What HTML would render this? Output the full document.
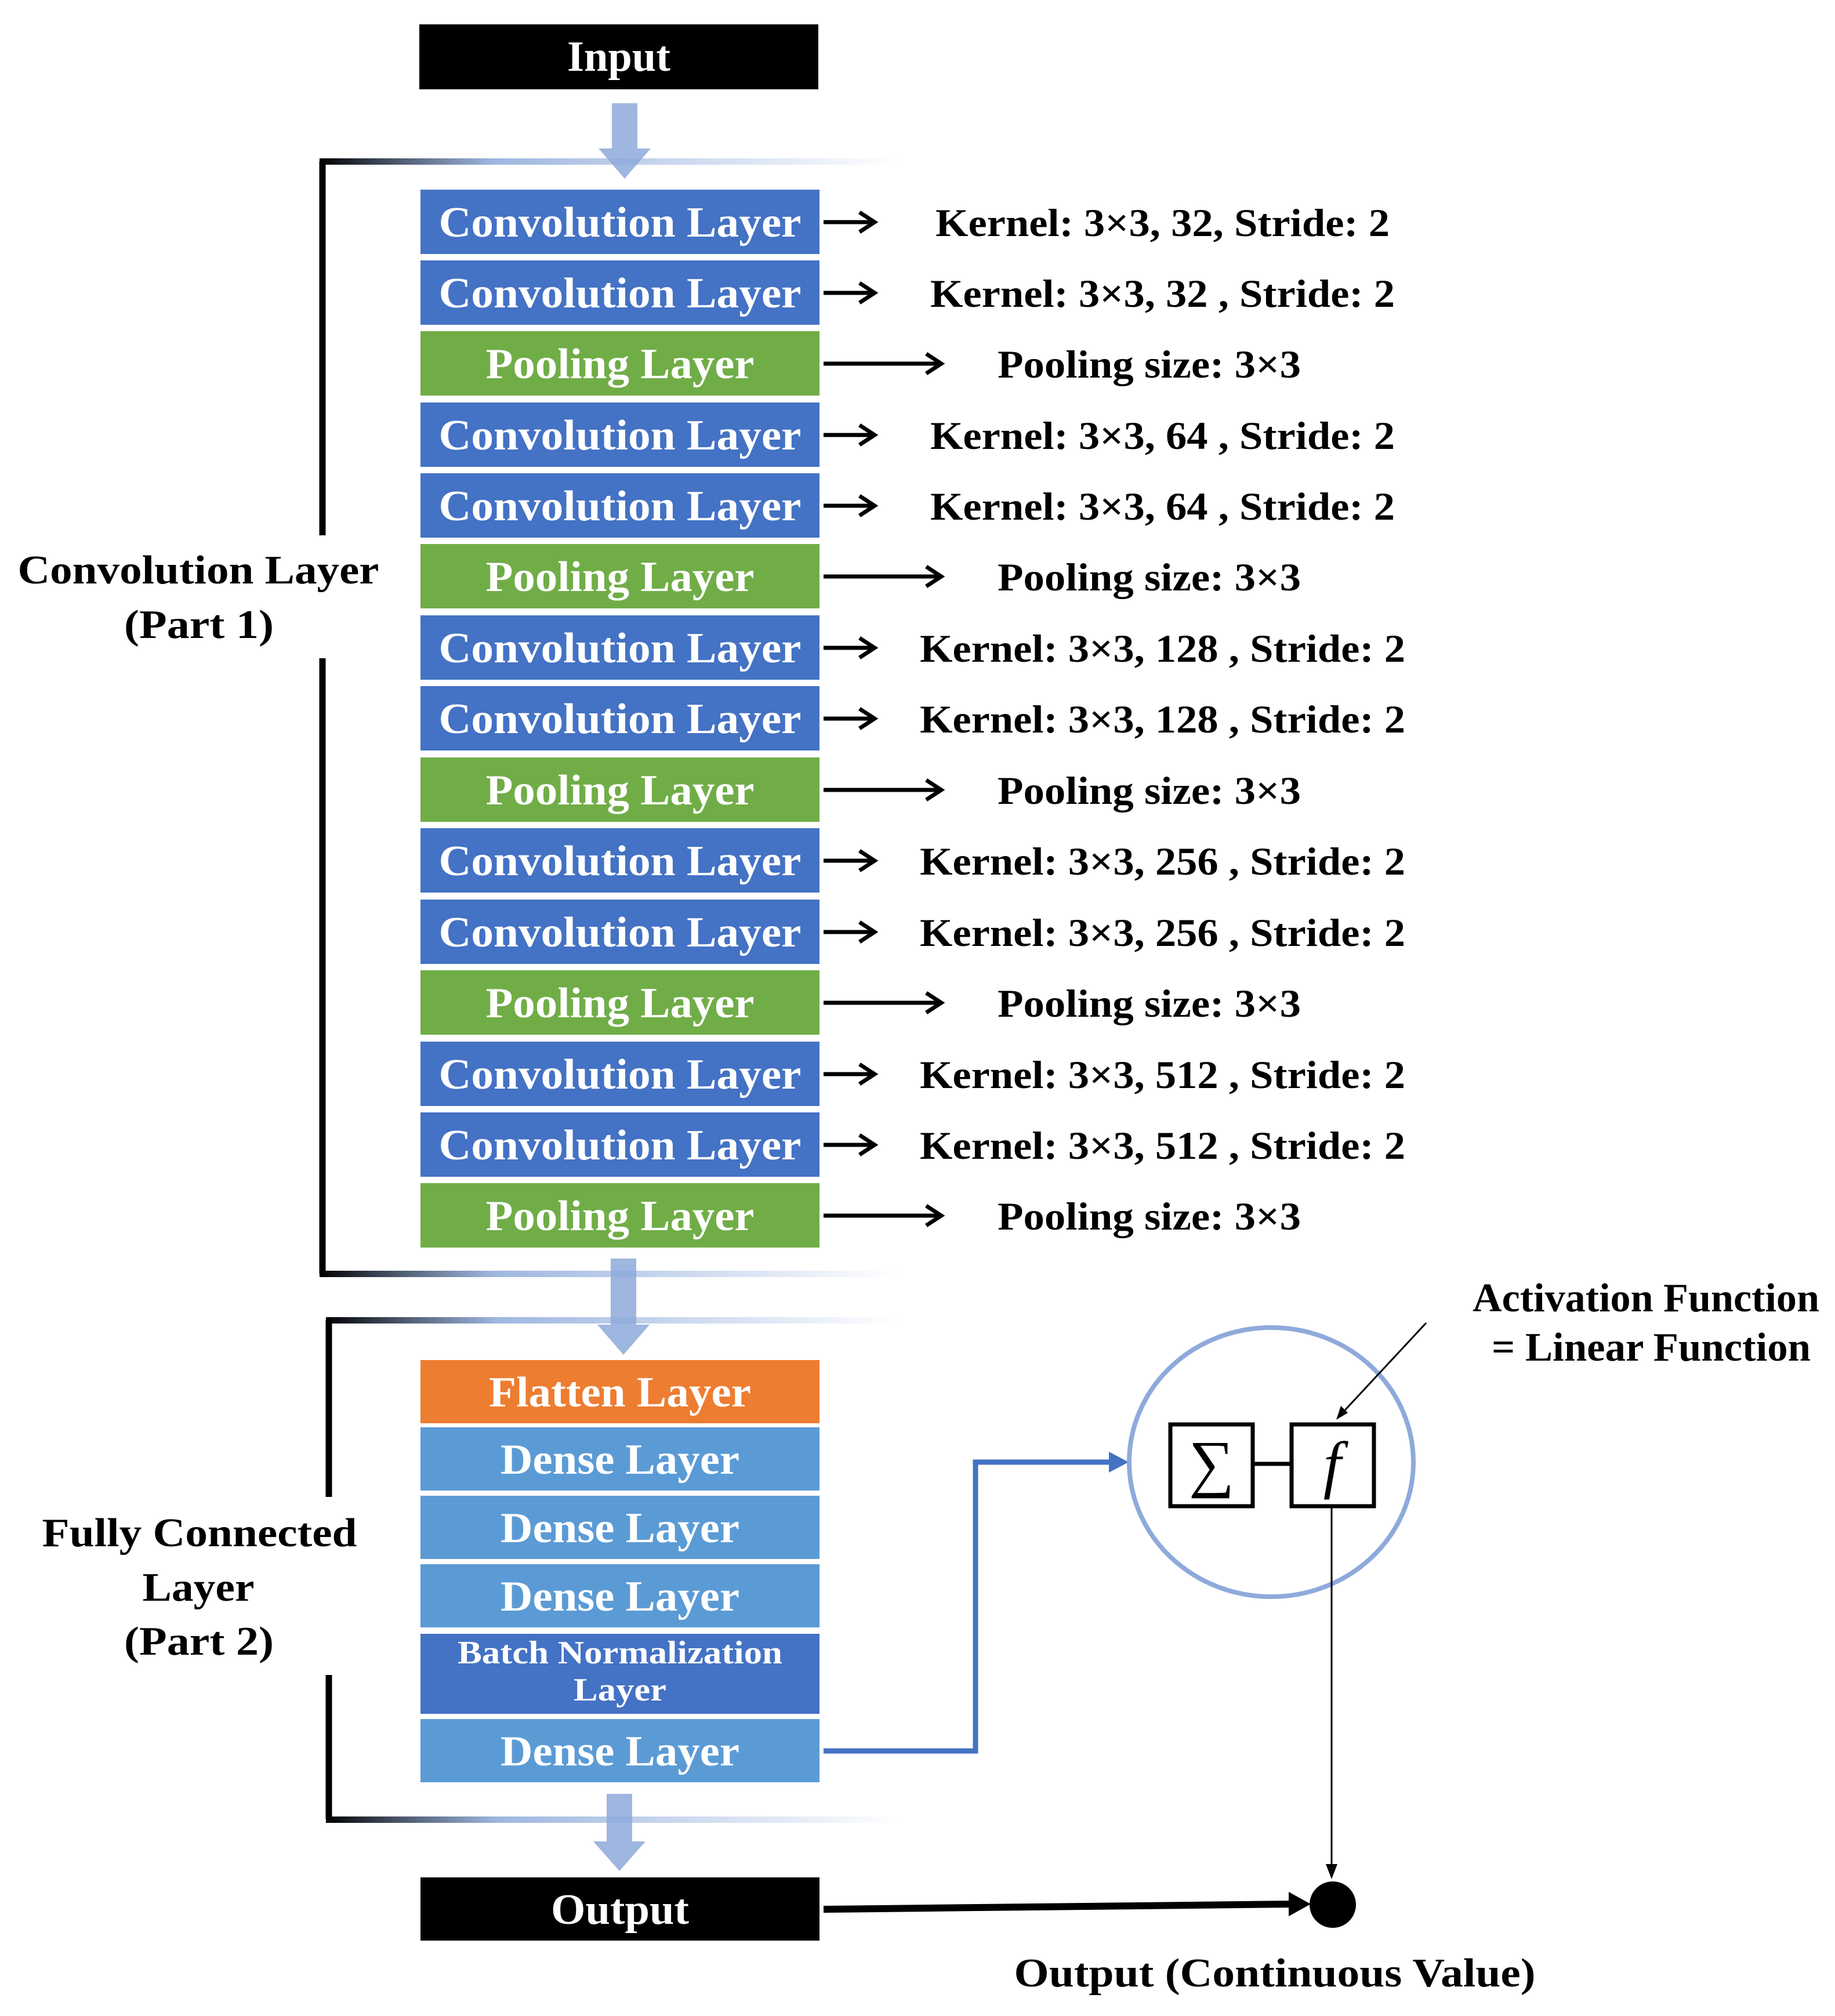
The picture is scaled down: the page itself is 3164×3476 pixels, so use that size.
<!DOCTYPE html>
<html><head><meta charset="utf-8"><style>html,body{margin:0;padding:0;background:#fff}svg{display:block}</style></head>
<body>
<svg xmlns="http://www.w3.org/2000/svg" width="3164" height="3476" viewBox="0 0 3164 3476" font-family="Liberation Serif, serif" font-weight="bold">
<defs>
<linearGradient id="br" x1="0" x2="1" y1="0" y2="0">
<stop offset="0" stop-color="#000"/><stop offset="0.3" stop-color="#8eaadb" stop-opacity="0.85"/><stop offset="1" stop-color="#8eaadb" stop-opacity="0"/>
</linearGradient>
</defs>
<rect width="3164" height="3476" fill="#fff"/>
<!-- input -->
<rect x="723" y="42" width="688" height="112" fill="#000"/>
<text x="1067" y="122" fill="#fff" font-size="74" text-anchor="middle" textLength="178" lengthAdjust="spacingAndGlyphs">Input</text>
<!-- bracket 1 -->
<path d="M556,923 V278" stroke="#000" stroke-width="11" fill="none"/>
<path d="M556,1135 V2196" stroke="#000" stroke-width="11" fill="none"/>
<rect x="551" y="273" width="1000" height="11" fill="url(#br)"/>
<rect x="551" y="2191" width="1000" height="11" fill="url(#br)"/>
<!-- bracket 2 -->
<path d="M567,2581 V2276" stroke="#000" stroke-width="11" fill="none"/>
<path d="M567,2888 V3137" stroke="#000" stroke-width="11" fill="none"/>
<rect x="562" y="2271" width="990" height="11" fill="url(#br)"/>
<rect x="562" y="3132" width="990" height="11" fill="url(#br)"/>
<!-- down arrows -->
<g fill="#8eaadb" opacity="0.85">
<rect x="1055" y="178" width="44" height="80"/><path d="M1032,256 H1122 L1077,308 Z"/>
<rect x="1053" y="2170" width="44" height="116"/><path d="M1030,2284 H1120 L1075,2336 Z"/>
<rect x="1046" y="3093" width="44" height="84"/><path d="M1023,3175 H1113 L1068,3226 Z"/>
</g>
<!-- layers -->
<g font-size="74" fill="#fff" text-anchor="middle">
<rect x="725" y="327" width="688" height="111" fill="#4472c4"/><text x="1069" y="408" textLength="625" lengthAdjust="spacingAndGlyphs">Convolution Layer</text>
<rect x="725" y="449" width="688" height="111" fill="#4472c4"/><text x="1069" y="530" textLength="625" lengthAdjust="spacingAndGlyphs">Convolution Layer</text>
<rect x="725" y="571" width="688" height="111" fill="#70ad47"/><text x="1069" y="652" textLength="463" lengthAdjust="spacingAndGlyphs">Pooling Layer</text>
<rect x="725" y="694" width="688" height="111" fill="#4472c4"/><text x="1069" y="775" textLength="625" lengthAdjust="spacingAndGlyphs">Convolution Layer</text>
<rect x="725" y="816" width="688" height="111" fill="#4472c4"/><text x="1069" y="897" textLength="625" lengthAdjust="spacingAndGlyphs">Convolution Layer</text>
<rect x="725" y="938" width="688" height="111" fill="#70ad47"/><text x="1069" y="1019" textLength="463" lengthAdjust="spacingAndGlyphs">Pooling Layer</text>
<rect x="725" y="1061" width="688" height="111" fill="#4472c4"/><text x="1069" y="1142" textLength="625" lengthAdjust="spacingAndGlyphs">Convolution Layer</text>
<rect x="725" y="1183" width="688" height="111" fill="#4472c4"/><text x="1069" y="1264" textLength="625" lengthAdjust="spacingAndGlyphs">Convolution Layer</text>
<rect x="725" y="1306" width="688" height="111" fill="#70ad47"/><text x="1069" y="1387" textLength="463" lengthAdjust="spacingAndGlyphs">Pooling Layer</text>
<rect x="725" y="1428" width="688" height="111" fill="#4472c4"/><text x="1069" y="1509" textLength="625" lengthAdjust="spacingAndGlyphs">Convolution Layer</text>
<rect x="725" y="1551" width="688" height="111" fill="#4472c4"/><text x="1069" y="1632" textLength="625" lengthAdjust="spacingAndGlyphs">Convolution Layer</text>
<rect x="725" y="1673" width="688" height="111" fill="#70ad47"/><text x="1069" y="1754" textLength="463" lengthAdjust="spacingAndGlyphs">Pooling Layer</text>
<rect x="725" y="1796" width="688" height="111" fill="#4472c4"/><text x="1069" y="1877" textLength="625" lengthAdjust="spacingAndGlyphs">Convolution Layer</text>
<rect x="725" y="1918" width="688" height="111" fill="#4472c4"/><text x="1069" y="1999" textLength="625" lengthAdjust="spacingAndGlyphs">Convolution Layer</text>
<rect x="725" y="2040" width="688" height="111" fill="#70ad47"/><text x="1069" y="2121" textLength="463" lengthAdjust="spacingAndGlyphs">Pooling Layer</text>

<rect x="725" y="2345" width="688" height="109" fill="#ed7d31"/><text x="1069" y="2425" textLength="452" lengthAdjust="spacingAndGlyphs">Flatten Layer</text>
<rect x="725" y="2461" width="688" height="109" fill="#5b9bd5"/><text x="1069" y="2541" textLength="412" lengthAdjust="spacingAndGlyphs">Dense Layer</text>
<rect x="725" y="2579" width="688" height="109" fill="#5b9bd5"/><text x="1069" y="2659" textLength="412" lengthAdjust="spacingAndGlyphs">Dense Layer</text>
<rect x="725" y="2697" width="688" height="109" fill="#5b9bd5"/><text x="1069" y="2777" textLength="412" lengthAdjust="spacingAndGlyphs">Dense Layer</text>
<rect x="725" y="2817" width="688" height="138" fill="#4472c4"/>
<text x="1069" y="2868" font-size="56" textLength="560" lengthAdjust="spacingAndGlyphs">Batch Normalization</text>
<text x="1069" y="2932" font-size="56" textLength="160" lengthAdjust="spacingAndGlyphs">Layer</text>
<rect x="725" y="2964" width="688" height="109" fill="#5b9bd5"/><text x="1069" y="3044" textLength="412" lengthAdjust="spacingAndGlyphs">Dense Layer</text>
<rect x="725" y="3237" width="688" height="109" fill="#000"/><text x="1069" y="3317" textLength="238" lengthAdjust="spacingAndGlyphs">Output</text>
</g>
<!-- small arrows -->
<g stroke="#000" stroke-width="7" fill="none" stroke-linecap="butt">
<path d="M1420,383 H1505 M1482,366 L1508,383 L1482,400"/>
<path d="M1420,505 H1505 M1482,488 L1508,505 L1482,522"/>
<path d="M1420,627 H1620 M1597,610 L1623,627 L1597,644"/>
<path d="M1420,750 H1505 M1482,733 L1508,750 L1482,767"/>
<path d="M1420,872 H1505 M1482,855 L1508,872 L1482,889"/>
<path d="M1420,994 H1620 M1597,977 L1623,994 L1597,1011"/>
<path d="M1420,1117 H1505 M1482,1100 L1508,1117 L1482,1134"/>
<path d="M1420,1239 H1505 M1482,1222 L1508,1239 L1482,1256"/>
<path d="M1420,1362 H1620 M1597,1345 L1623,1362 L1597,1379"/>
<path d="M1420,1484 H1505 M1482,1467 L1508,1484 L1482,1501"/>
<path d="M1420,1607 H1505 M1482,1590 L1508,1607 L1482,1624"/>
<path d="M1420,1729 H1620 M1597,1712 L1623,1729 L1597,1746"/>
<path d="M1420,1852 H1505 M1482,1835 L1508,1852 L1482,1869"/>
<path d="M1420,1974 H1505 M1482,1957 L1508,1974 L1482,1991"/>
<path d="M1420,2096 H1620 M1597,2079 L1623,2096 L1597,2113"/>
</g>
<!-- params -->
<g font-size="68" fill="#000">
<text x="1613" y="407" textLength="783" lengthAdjust="spacingAndGlyphs">Kernel: 3×3, 32, Stride: 2</text>
<text x="1604" y="529" textLength="801" lengthAdjust="spacingAndGlyphs">Kernel: 3×3, 32 , Stride: 2</text>
<text x="1720" y="651" textLength="523" lengthAdjust="spacingAndGlyphs">Pooling size: 3×3</text>
<text x="1604" y="774" textLength="801" lengthAdjust="spacingAndGlyphs">Kernel: 3×3, 64 , Stride: 2</text>
<text x="1604" y="896" textLength="801" lengthAdjust="spacingAndGlyphs">Kernel: 3×3, 64 , Stride: 2</text>
<text x="1720" y="1018" textLength="523" lengthAdjust="spacingAndGlyphs">Pooling size: 3×3</text>
<text x="1586" y="1141" textLength="837" lengthAdjust="spacingAndGlyphs">Kernel: 3×3, 128 , Stride: 2</text>
<text x="1586" y="1263" textLength="837" lengthAdjust="spacingAndGlyphs">Kernel: 3×3, 128 , Stride: 2</text>
<text x="1720" y="1386" textLength="523" lengthAdjust="spacingAndGlyphs">Pooling size: 3×3</text>
<text x="1586" y="1508" textLength="837" lengthAdjust="spacingAndGlyphs">Kernel: 3×3, 256 , Stride: 2</text>
<text x="1586" y="1631" textLength="837" lengthAdjust="spacingAndGlyphs">Kernel: 3×3, 256 , Stride: 2</text>
<text x="1720" y="1753" textLength="523" lengthAdjust="spacingAndGlyphs">Pooling size: 3×3</text>
<text x="1586" y="1876" textLength="837" lengthAdjust="spacingAndGlyphs">Kernel: 3×3, 512 , Stride: 2</text>
<text x="1586" y="1998" textLength="837" lengthAdjust="spacingAndGlyphs">Kernel: 3×3, 512 , Stride: 2</text>
<text x="1720" y="2120" textLength="523" lengthAdjust="spacingAndGlyphs">Pooling size: 3×3</text>
</g>
<!-- side labels -->
<g font-size="70" fill="#000" text-anchor="middle">
<text x="342" y="1006" textLength="623" lengthAdjust="spacingAndGlyphs">Convolution Layer</text>
<text x="343" y="1100" textLength="258" lengthAdjust="spacingAndGlyphs">(Part 1)</text>
<text x="344" y="2666" textLength="543" lengthAdjust="spacingAndGlyphs">Fully Connected</text>
<text x="342" y="2760" textLength="193" lengthAdjust="spacingAndGlyphs">Layer</text>
<text x="343" y="2853" textLength="258" lengthAdjust="spacingAndGlyphs">(Part 2)</text>
<text x="2838" y="2261" textLength="598" lengthAdjust="spacingAndGlyphs">Activation Function</text>
<text x="2847" y="2346" textLength="550" lengthAdjust="spacingAndGlyphs">= Linear Function</text>
<text x="2198" y="3425" textLength="899" lengthAdjust="spacingAndGlyphs">Output (Continuous Value)</text>
</g>
<!-- blue connector -->
<path d="M1420,3019 H1682 V2521 H1920" stroke="#4472c4" stroke-width="9" fill="none"/>
<path d="M1912,2503 L1946,2521 L1912,2539 Z" fill="#4472c4"/>
<!-- neuron -->
<ellipse cx="2192" cy="2521" rx="245" ry="232" fill="none" stroke="#8eaadb" stroke-width="8"/>
<rect x="2018" y="2456" width="142" height="141" fill="#fff" stroke="#000" stroke-width="7"/>
<rect x="2227" y="2456" width="142" height="141" fill="#fff" stroke="#000" stroke-width="7"/>
<line x1="2160" y1="2524" x2="2227" y2="2524" stroke="#000" stroke-width="7"/>
<text x="2089" y="2560" font-size="110" font-weight="normal" text-anchor="middle">∑</text>
<text x="2297" y="2562" font-size="110" font-weight="normal" font-style="italic" text-anchor="middle">f</text>
<line x1="2459" y1="2281" x2="2311" y2="2440" stroke="#000" stroke-width="3"/>
<path d="M2304,2448 L2312,2424 L2324,2436 Z" fill="#000"/>
<line x1="2296" y1="2597" x2="2296" y2="3232" stroke="#000" stroke-width="3"/>
<path d="M2286,3214 L2296,3240 L2306,3214 Z" fill="#000"/>
<circle cx="2298" cy="3284" r="40" fill="#000"/>
<line x1="1420" y1="3292" x2="2230" y2="3283" stroke="#000" stroke-width="12"/>
<path d="M2222,3262 L2260,3283 L2222,3304 Z" fill="#000"/>
</svg>
</body></html>
